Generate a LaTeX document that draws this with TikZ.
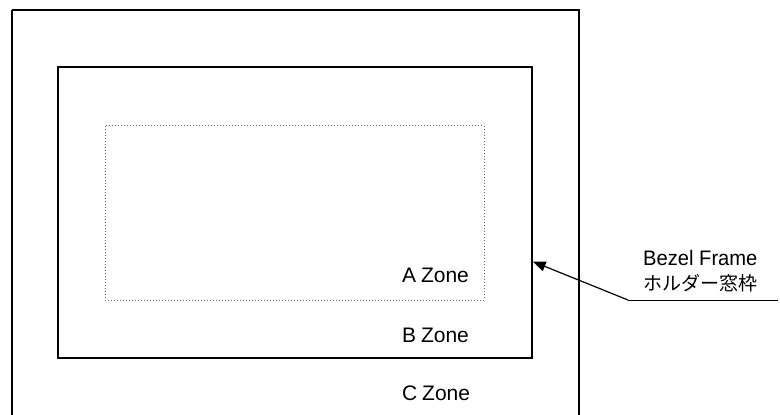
\documentclass[tikz,border=0pt]{standalone}
\usepackage{fontspec}
\setmainfont{Liberation Sans}
\newfontfamily\jpfont{Noto Sans CJK JP}
\usetikzlibrary{arrows.meta}
\begin{document}
\begin{tikzpicture}[x=1pt,y=-1pt,
  zonebox/.style={draw=black,line width=2pt},
  dotbox/.style={draw=black!60,line width=1pt,dotted},
  zonelabel/.style={anchor=west,inner sep=0pt,font=\fontsize{21}{21}\selectfont},
  callout/.style={line width=1.2pt,-{Triangle[length=13pt,width=10pt]}}]
\useasboundingbox (0,0) rectangle (780,415);
\clip (0,0) rectangle (780,415);
\draw[zonebox] (12,10) -- (578.5,10) -- (578.5,430) (12,10) -- (12,430);
\draw[zonebox] (58.3,67) rectangle (531.7,358.3);
\draw[dotbox] (105.3,125.7) rectangle (484,300);
\node[zonelabel] (a) at (402,275.5) {A\kern-1pt\ Zone};
\node[zonelabel] (b) at (402,335) {B\kern-1pt\ Zone};
\node[zonelabel] (c) at (402,393) {C\kern-1pt\ Zone};
\node[zonelabel,xscale=0.96] (bezel) at (643,257.5) {Bezel Frame};
\node[anchor=west,inner sep=0pt,font=\jpfont\fontsize{19}{19}\selectfont] (jp) at (643,283) {ホルダー窓枠};
\coordinate (ulstart) at (628,300);
\coordinate (ulend) at (778,300);
\coordinate (tip) at (532.7,261.5);
\draw[line width=1pt] (ulend) -- (ulstart);
\draw[callout] (ulstart) -- (tip);
\end{tikzpicture}
\end{document}
